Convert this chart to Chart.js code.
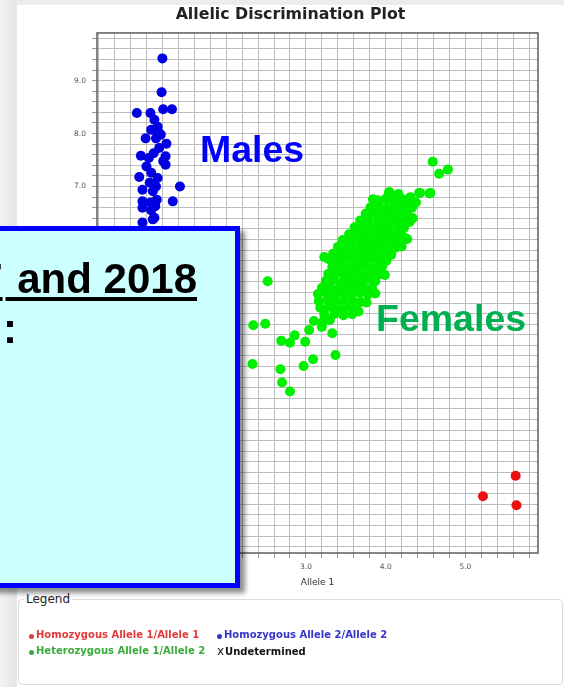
<!DOCTYPE html>
<html>
<head>
<meta charset="utf-8">
<script src="https://cdn.jsdelivr.net/npm/chart.js@4.4.1/dist/chart.umd.min.js"></script>
<style>
  html, body { margin: 0; padding: 0; }
  body {
    width: 564px; height: 687px; overflow: hidden; position: relative;
    background: linear-gradient(90deg, #f3f3f3 0px, #e4e4e4 16px, #ececec 17px);
    font-family: "DejaVu Sans", sans-serif;
  }
  .panel {
    position: absolute; left: 17px; top: 5px; width: 547px; height: 682px;
    background: #fff;
  }
  #plot { position: absolute; left: 17px; top: 5px; }
  .legend-box {
    position: absolute; left: 18px; top: 599px; width: 545px; height: 86px;
    box-sizing: border-box; border: 1px solid #dcdcdc; border-radius: 4px;
  }
  .legend-title {
    position: absolute; left: 24px; top: 591px; padding: 0 2px;
    background: #fff; color: #222; font-size: 12px; line-height: 16px;
  }
  #legend {
    position: absolute; left: 29px; top: 627px;
    display: grid; grid-template-columns: 188px auto; grid-auto-rows: 16px;
    font-size: 10px; font-weight: bold; line-height: 16px; white-space: nowrap;
  }
  #legend .dot {
    display: inline-block; width: 5px; height: 5px; border-radius: 50%;
    margin-right: 2px; vertical-align: -1px;
  }
  #legend .cross { font-weight: normal; font-size: 12px; margin-right: 1px; }
  .callout {
    position: absolute; font-family: "Liberation Sans", Arial, sans-serif;
    font-weight: bold; line-height: 1; white-space: nowrap;
  }
  .note {
    position: absolute; left: -10px; top: 226px; width: 250px; height: 362px;
    box-sizing: border-box; background: #ccffff; border: 5px solid #0000ff;
    box-shadow: 5px 5px 5px rgba(0, 0, 0, 0.45);
  }
  .note .line {
    position: absolute; font-family: "Liberation Sans", Arial, sans-serif;
    font-weight: bold; font-size: 42px; line-height: 42px; color: #000; white-space: nowrap;
  }
  .note .years {
    right: 38px; top: 27px;
    text-decoration: underline; text-decoration-thickness: 4px; text-underline-offset: 4px;
  }
  .note .first { margin-right: 3px; }
  .note .colon { right: 218px; top: 77px; }
</style>
</head>
<body>
<div class="panel"></div>
<canvas id="plot" width="547" height="595"></canvas>
<div class="callout" style="left:200px; top:131px; font-size:37.5px; color:#0000ff;">Males</div>
<div class="callout" style="left:376px; top:300px; font-size:37.5px; color:#00b050;">Females</div>
<div class="legend-box"></div>
<div class="legend-title">Legend</div>
<div id="legend"></div>
<div class="note">
  <span class="line years"><span class="first">2017</span> and 2018</span>
  <span class="line colon">:</span>
</div>
<script>
// series labels, in legend order (two per row)
const seriesLabels = [
  "Homozygous Allele 1/Allele 1",
  "Homozygous Allele 2/Allele 2",
  "Heterozygous Allele 1/Allele 2",
  "Undetermined",
];

// [Allele 1, Allele 2] pairs for each call group
const homozygous11 = [[5.63, 1.54], [5.22, 1.15], [5.64, 0.98]];

const homozygous22 = [
  [1.20, 9.42], [1.19, 8.78], [1.21, 8.46], [1.32, 8.46], [0.88, 8.39], [1.05, 8.39],
  [1.10, 8.26], [1.14, 8.13], [1.06, 8.07], [1.16, 8.01], [0.99, 7.91], [1.12, 7.91],
  [1.18, 7.98], [1.25, 7.81], [1.16, 7.73], [0.93, 7.58], [1.03, 7.54], [1.09, 7.63],
  [1.24, 7.57], [1.21, 7.48], [1.24, 7.41], [1.00, 7.38], [0.91, 7.18], [1.06, 7.26],
  [1.14, 7.16], [1.04, 7.07], [1.12, 7.00], [1.42, 7.00], [0.95, 6.94], [1.08, 6.91],
  [1.33, 6.72], [0.95, 6.72], [1.05, 6.70], [1.13, 6.75], [0.95, 6.60], [1.06, 6.55],
  [1.11, 6.63], [1.10, 6.41], [0.95, 6.32], [1.08, 6.38], [1.02, 6.05], [1.12, 5.88],
  [0.96, 5.72], [1.08, 5.55], [1.15, 6.12],
];

const heterozygous = [
  // scattered low calls
  [2.52, 5.21], [2.34, 4.38], [2.49, 4.41], [2.69, 4.09], [2.80, 4.05], [2.86, 4.19],
  [2.99, 4.07], [3.04, 4.29], [3.20, 4.35], [3.33, 4.23], [2.33, 3.65], [2.68, 3.55],
  [2.97, 3.61], [3.09, 3.74], [3.37, 3.82], [2.70, 3.30], [2.80, 3.13], [3.23, 5.67],
  // upper tail
  [4.59, 7.47], [4.67, 7.24], [4.78, 7.32], [4.56, 6.88], [4.43, 6.88], [4.05, 6.89],
  [3.84, 6.76],
  // main cluster
  [4.04, 6.89], [4.16, 6.86], [4.31, 6.80], [4.42, 6.88], [4.55, 6.87],
  [3.90, 6.74], [4.00, 6.77], [4.10, 6.73], [4.21, 6.76], [4.30, 6.72], [4.38, 6.70],
  [3.81, 6.61], [3.92, 6.63], [4.02, 6.60], [4.12, 6.64], [4.22, 6.62], [4.33, 6.60],
  [3.75, 6.49], [3.86, 6.51], [3.97, 6.48], [4.07, 6.52], [4.17, 6.50], [4.27, 6.47], [4.34, 6.40],
  [3.68, 6.36], [3.79, 6.38], [3.90, 6.35], [4.01, 6.39], [4.11, 6.36], [4.21, 6.37], [4.30, 6.33],
  [3.61, 6.23], [3.72, 6.25], [3.82, 6.22], [3.93, 6.26], [4.03, 6.23], [4.13, 6.25], [4.23, 6.22],
  [3.54, 6.10], [3.65, 6.12], [3.75, 6.09], [3.86, 6.13], [3.96, 6.11], [4.06, 6.10], [4.16, 6.12], [4.22, 6.05],
  [3.46, 5.99], [3.57, 6.01], [3.68, 5.97], [3.79, 6.00], [3.89, 5.98], [4.00, 6.02], [4.10, 5.99], [4.20, 5.97], [4.27, 6.01],
  [3.40, 5.86], [3.51, 5.88], [3.61, 5.85], [3.72, 5.88], [3.82, 5.86], [3.93, 5.89], [4.03, 5.86], [4.13, 5.85], [4.20, 5.87],
  [3.34, 5.73], [3.45, 5.75], [3.55, 5.72], [3.66, 5.75], [3.76, 5.73], [3.87, 5.76], [3.97, 5.73], [4.07, 5.71],
  [3.28, 5.63], [3.39, 5.61], [3.49, 5.63], [3.60, 5.60], [3.70, 5.62], [3.81, 5.64], [3.91, 5.61], [4.01, 5.60],
  [3.33, 5.48], [3.44, 5.50], [3.54, 5.47], [3.65, 5.49], [3.75, 5.51], [3.86, 5.48], [3.96, 5.50],
  [3.28, 5.35], [3.39, 5.37], [3.49, 5.34], [3.60, 5.36], [3.70, 5.35], [3.81, 5.37], [3.91, 5.34], [3.99, 5.33],
  [3.25, 5.22], [3.35, 5.24], [3.46, 5.21], [3.56, 5.23], [3.67, 5.22], [3.77, 5.24], [3.87, 5.21],
  [3.20, 5.09], [3.30, 5.11], [3.41, 5.08], [3.51, 5.10], [3.62, 5.12], [3.72, 5.09], [3.83, 5.08],
  [3.15, 4.97], [3.25, 4.99], [3.36, 4.96], [3.46, 4.98], [3.57, 4.97], [3.67, 4.99], [3.78, 4.96], [3.87, 4.98],
  [3.16, 4.84], [3.27, 4.86], [3.38, 4.83], [3.48, 4.85], [3.59, 4.84], [3.69, 4.82], [3.76, 4.81],
  [3.18, 4.71], [3.29, 4.73], [3.40, 4.70], [3.50, 4.72], [3.61, 4.70], [3.66, 4.64],
  [3.23, 4.58], [3.36, 4.60], [3.47, 4.57], [3.58, 4.59],
  [3.10, 4.46], [3.21, 4.44], [3.30, 4.48],
];

const undetermined = [];

// axis ranges and tick spacing
const alleleRange1 = [0.38, 5.91];
const alleleRange2 = [0.08, 9.9];
const gridStep = 0.2;

const toPoints = (pairs) => pairs.map(([x, y]) => ({ x, y }));
const wholeOnly = (value) => (Number.isInteger(value) ? value.toFixed(1) : "");

const tickFont = { family: "DejaVu Sans", size: 7.5 };
const grid = { color: "#bdbdbd", lineWidth: 1, tickLength: 5, tickColor: "#9a9a9a" };

// outline round the whole plotting area
const plotFrame = {
  id: "plotFrame",
  afterDraw(chart) {
    const { ctx, chartArea: a } = chart;
    ctx.save();
    ctx.strokeStyle = "#5c5c5c";
    ctx.lineWidth = 1.5;
    ctx.strokeRect(a.left, a.top, a.right - a.left, a.bottom - a.top);
    ctx.restore();
  },
};

const chart = new Chart(document.getElementById("plot"), {
  type: "scatter",
  data: {
    datasets: [
      { label: seriesLabels[0], data: toPoints(homozygous11), backgroundColor: "#e81010", legendText: "#e03a3a" },
      { label: seriesLabels[1], data: toPoints(homozygous22), backgroundColor: "#0000e0", legendText: "#3434c8" },
      { label: seriesLabels[2], data: toPoints(heterozygous), backgroundColor: "#00f000", legendText: "#3aaa3a" },
      { label: seriesLabels[3], data: toPoints(undetermined), backgroundColor: "#000", pointStyle: "crossRot", legendText: "#111" },
    ],
  },
  options: {
    responsive: false,
    animation: false,
    events: [],
    layout: { padding: { left: 26, right: 26, top: 0, bottom: 0 } },
    elements: { point: { radius: 5, hoverRadius: 5, borderWidth: 0 } },
    plugins: {
      legend: { display: false },
      tooltip: { enabled: false },
      title: {
        display: true,
        text: "Allelic Discrimination Plot",
        color: "#222",
        font: { family: "DejaVu Sans", size: 15.8, weight: "bold" },
        padding: { top: 0, bottom: 9 },
      },
    },
    scales: {
      x: {
        type: "linear",
        min: alleleRange1[0],
        max: alleleRange1[1],
        afterFit: (scale) => { scale.height = 47; },
        ticks: {
          stepSize: gridStep, includeBounds: false, autoSkip: false, maxRotation: 0,
          padding: 5, color: "#555", font: tickFont, callback: wholeOnly,
        },
        grid,
        border: { display: false },
        title: {
          display: true, text: "Allele 1", color: "#333",
          font: { family: "DejaVu Sans", size: 9 }, padding: { top: 0, bottom: 11.5 },
        },
      },
      y: {
        type: "linear",
        min: alleleRange2[0],
        max: alleleRange2[1],
        afterFit: (scale) => { scale.width = 54; },
        ticks: {
          stepSize: gridStep, includeBounds: false, autoSkip: false,
          padding: 6, color: "#555", font: tickFont, callback: wholeOnly,
        },
        grid,
        border: { display: false },
      },
    },
  },
  plugins: [plotFrame],
});

// HTML legend built from the chart's datasets
const legendEl = document.getElementById("legend");
chart.data.datasets.forEach((ds) => {
  const item = document.createElement("div");
  item.style.color = ds.legendText;
  const mark = document.createElement("span");
  if (ds.pointStyle === "crossRot") {
    mark.className = "cross";
    mark.textContent = "x";
  } else {
    mark.className = "dot";
    mark.style.background = ds.legendText;
  }
  item.appendChild(mark);
  item.appendChild(document.createTextNode(ds.label));
  legendEl.appendChild(item);
});
</script>
</body>
</html>
